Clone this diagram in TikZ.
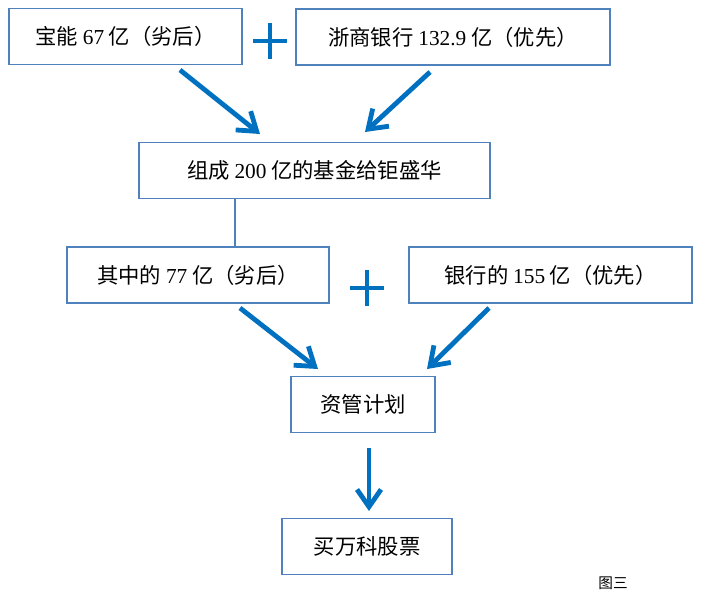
\documentclass[tikz,border=0pt]{standalone}
\usepackage{fontspec}
\setmainfont{Liberation Serif}
\newfontfamily\cjk{Noto Sans CJK SC}
\usetikzlibrary{arrows.meta}
\definecolor{boxblue}{RGB}{79,129,189}
\definecolor{arrowblue}{RGB}{0,112,192}
\tikzset{
  box/.style={draw=boxblue, line width=1.1pt, minimum height=42pt, inner sep=2pt,
    font=\fontsize{16}{18}\selectfont\cjk},
  flow/.style={draw=arrowblue, line width=3.6pt, -{Straight Barb[length=13pt,width=18pt]}},
  plusline/.style={draw=arrowblue, line width=3.6pt},
  link/.style={draw=boxblue, line width=1.3pt}
}
\begin{document}
\begin{tikzpicture}[x=0.75pt,y=-0.75pt]
          \useasboundingbox (0,0) rectangle (713,601);
          \node[box, minimum width=175pt] at (125.5,36.5) (baoneng) {宝能 {\rmfamily 67} 亿（劣后）};
          \node[box, minimum width=235.5pt] at (453,37) (zheshang) {浙商银行 {\rmfamily 132.9} 亿（优先）};
          \node[box, minimum width=263pt] at (314.5,170.5) (fund) {组成 {\rmfamily 200} 亿的基金给钜盛华};
          \node[box, minimum width=196.5pt] at (198,275) (sub) {其中的 {\rmfamily 77} 亿（劣后）};
          \node[box, minimum width=212pt] at (550.5,275) (bank) {银行的 {\rmfamily 155} 亿（优先）};
          \node[box, minimum width=108pt] at (363,404.5) (plan) {资管计划};
          \node[box, minimum width=127.5pt] at (367,546.5) (buy) {买万科股票};
          \node[font=\fontsize{11}{13}\selectfont\cjk] at (613,583) (fig) {图三};
          % plus signs
          \coordinate (plusA) at (270,41);
          \coordinate (plusB) at (367,288);
          \draw[plusline] (plusA) ++(-17,0) -- ++(34,0);
          \draw[plusline] (plusA) ++(0,-18) -- ++(0,36);
          \draw[plusline] (plusB) ++(-17,0) -- ++(34,0);
          \draw[plusline] (plusB) ++(0,-18) -- ++(0,36);
          % arrows
          \coordinate (a1) at (180,70);
          \coordinate (a1e) at (260,134);
          \coordinate (a2) at (430,72);
          \coordinate (a2e) at (365,132);
          \coordinate (a3) at (240,308);
          \coordinate (a3e) at (318,369);
          \coordinate (a4) at (489,308);
          \coordinate (a4e) at (427,369);
          \coordinate (a5) at (369,448);
          \coordinate (a5e) at (369,511);
          \draw[flow] (a1) -- (a1e);
          \draw[flow] (a2) -- (a2e);
          \draw[flow] (a3) -- (a3e);
          \draw[flow] (a4) -- (a4e);
          \draw[flow] (a5) -- (a5e);
          \coordinate (mid) at (235,220);
          \draw[link] (mid |- fund.south) -- (mid |- sub.north);
        \end{tikzpicture}
\end{document}
